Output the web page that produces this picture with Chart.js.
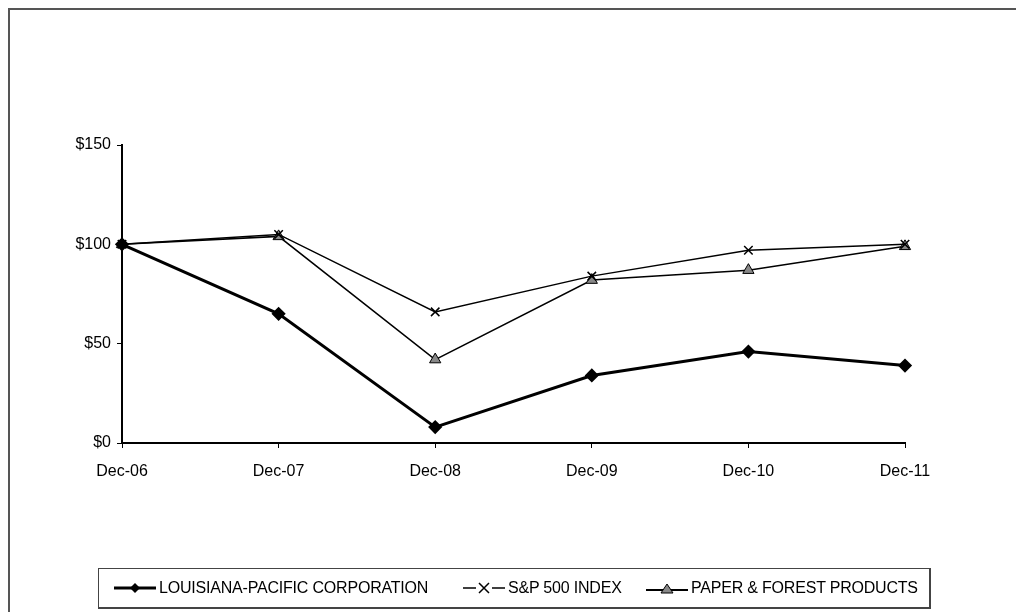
<!DOCTYPE html>
<html>
<head>
<meta charset="utf-8">
<script src="https://cdn.jsdelivr.net/npm/chart.js@4.4.1/dist/chart.umd.min.js"></script>
<style>
  html, body { margin: 0; padding: 0; background: #fff; }
  #wrap { position: relative; width: 1016px; height: 612px; overflow: hidden; }
  #frame { position: absolute; left: 8px; top: 8px; width: 1100px; height: 700px;
    border-left: 2px solid #555; border-top: 2px solid #555; }
  canvas#chart { position: absolute; left: 0; top: 0; }
  #legend { position: absolute; left: 98px; top: 568px; width: 830px; height: 38px;
    border: 1px solid #444; border-right-width: 2px; border-bottom-width: 2px;
    font-family: "Liberation Sans", Arial, sans-serif; font-size: 16px; color: #000; }
  .item { position: absolute; top: 0; height: 38px; display: flex; align-items: center; }
  .item canvas { display: block; }
  .item span { margin-left: 1px; white-space: nowrap; letter-spacing: -0.2px; }
</style>
</head>
<body>
<div id="wrap">
  <div id="frame"></div>
  <canvas id="chart" width="1016" height="612"></canvas>
  <div id="legend"></div>
</div>
<script>
// Data
const categories = ["Dec-06", "Dec-07", "Dec-08", "Dec-09", "Dec-10", "Dec-11"];
const lpValues = [100, 65, 8, 34, 46, 39];
const spValues = [100, 105, 66, 84, 97, 100];
const paperValues = [100, 104, 42, 82, 87, 99];
const yTicks = [0, 50, 100, 150];
const seriesNames = ["LOUISIANA-PACIFIC CORPORATION", "S&P 500 INDEX", "PAPER & FOREST PRODUCTS"];

const FONT = '"Liberation Sans", Arial, sans-serif';

const ctx = document.getElementById("chart").getContext("2d");
new Chart(ctx, {
  type: "line",
  data: {
    labels: categories,
    datasets: [
      {
        label: seriesNames[0],
        data: lpValues,
        borderColor: "#000",
        borderWidth: 3,
        pointStyle: "rectRot",
        pointRadius: 5,
        pointBackgroundColor: "#000",
        pointBorderColor: "#000",
        tension: 0,
      },
      {
        label: seriesNames[1],
        data: spValues,
        borderColor: "#000",
        borderWidth: 1.5,
        pointStyle: "crossRot",
        pointRadius: 6,
        pointBorderWidth: 1.5,
        pointBorderColor: "#000",
        tension: 0,
      },
      {
        label: seriesNames[2],
        data: paperValues,
        borderColor: "#000",
        borderWidth: 1.5,
        pointStyle: "triangle",
        pointRadius: 6.5,
        pointBorderWidth: 1,
        pointBackgroundColor: "#888",
        pointBorderColor: "#000",
        tension: 0,
      },
    ],
  },
  options: {
    responsive: false,
    animation: false,
    layout: { padding: { left: 70, right: 111, top: 145, bottom: 129 } },
    plugins: { legend: { display: false }, tooltip: { enabled: false } },
    scales: {
      x: {
        offset: false,
        grid: { drawOnChartArea: false, drawTicks: true, tickLength: 5, color: "#000", lineWidth: 1 },
        border: { color: "#000", width: 2 },
        ticks: { color: "#000", font: { family: FONT, size: 16 }, padding: 14, maxRotation: 0 },
        afterFit: (s) => { s.height = 40; },
      },
      y: {
        min: 0,
        max: 150,
        afterBuildTicks: (s) => { s.ticks = yTicks.map((v) => ({ value: v })); },
        grid: { drawOnChartArea: false, drawTicks: true, tickLength: 5, color: "#000", lineWidth: 1 },
        border: { color: "#000", width: 2 },
        ticks: {
          color: "#000",
          font: { family: FONT, size: 16 },
          padding: 6,
          callback: (v) => "$" + v,
        },
        afterFit: (s) => { s.width = 52; },
      },
    },
  },
});

// Legend icons
function makeIcon(kind) {
  const c = document.createElement("canvas");
  c.width = 46;
  c.height = 20;
  const g = c.getContext("2d");
  const cx = 23, cy = 10;
  g.strokeStyle = "#000";
  g.fillStyle = "#000";
  if (kind === 0) {
    g.lineWidth = 3;
    g.beginPath(); g.moveTo(2, cy); g.lineTo(44, cy); g.stroke();
    g.beginPath();
    g.moveTo(cx, cy - 5); g.lineTo(cx + 5, cy); g.lineTo(cx, cy + 5); g.lineTo(cx - 5, cy);
    g.closePath(); g.fill();
  } else if (kind === 1) {
    g.lineWidth = 1.5;
    g.beginPath(); g.moveTo(2, cy); g.lineTo(15, cy); g.moveTo(31, cy); g.lineTo(44, cy); g.stroke();
    g.beginPath();
    g.moveTo(cx - 5, cy - 5); g.lineTo(cx + 5, cy + 5);
    g.moveTo(cx + 5, cy - 5); g.lineTo(cx - 5, cy + 5);
    g.stroke();
  } else {
    g.lineWidth = 2;
    g.beginPath(); g.moveTo(2, cy + 2); g.lineTo(44, cy + 2); g.stroke();
    g.beginPath();
    g.moveTo(cx, cy - 4); g.lineTo(cx + 6, cy + 5); g.lineTo(cx - 6, cy + 5);
    g.closePath();
    g.fillStyle = "#888"; g.fill();
    g.lineWidth = 1; g.stroke();
  }
  return c;
}

const legendLefts = [13, 362, 545];
const legend = document.getElementById("legend");
seriesNames.forEach((name, i) => {
  const item = document.createElement("div");
  item.className = "item";
  item.style.left = legendLefts[i] + "px";
  item.appendChild(makeIcon(i));
  const span = document.createElement("span");
  span.textContent = name;
  item.appendChild(span);
  legend.appendChild(item);
});
</script>
</body>
</html>
